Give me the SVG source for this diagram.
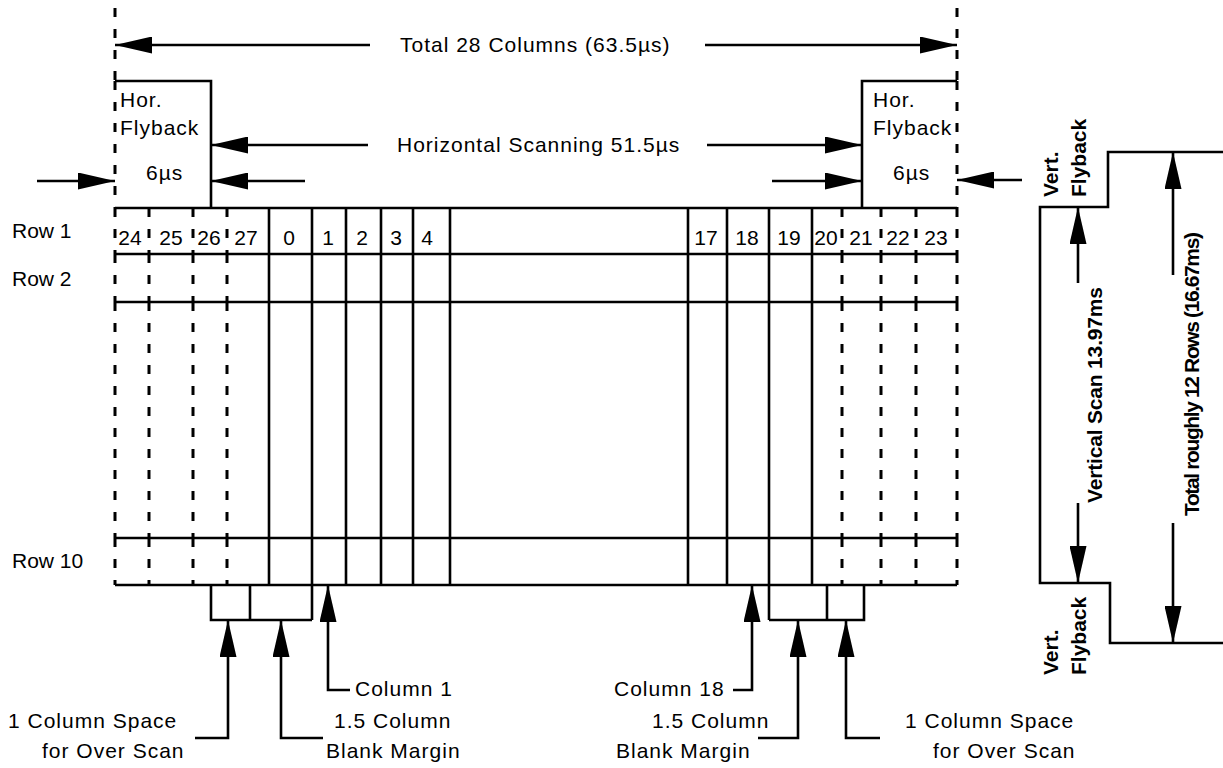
<svg xmlns="http://www.w3.org/2000/svg" width="1223" height="768" viewBox="0 0 1223 768">
<defs>
<style>
.t{font-family:"Liberation Sans",Arial,sans-serif;font-size:21px;letter-spacing:1px;fill:#000}
.w{font-family:"Liberation Sans",Arial,sans-serif;font-size:21px;fill:#000}
.n{font-family:"Liberation Sans",Arial,sans-serif;font-size:21px;fill:#000;text-anchor:middle}
.r{font-family:"Liberation Sans",Arial,sans-serif;font-size:21px;font-weight:bold;fill:#000}
.s{stroke:#000;stroke-width:2.6;fill:none}
.d{stroke:#000;stroke-width:3;fill:none;stroke-dasharray:9 12}
.a{stroke:#000;stroke-width:2.6;fill:none;marker-end:url(#ah)}
</style>
<marker id="ah" markerUnits="userSpaceOnUse" markerWidth="37" markerHeight="17" refX="37" refY="8.5" orient="auto"><path d="M0,0 L37,8.5 L0,17 Z" fill="#000"/></marker>
</defs>
<rect width="1223" height="768" fill="#fff"/>

<g id="grid">
<path class="s" d="M115,208H957 M115,254H957 M115,302H957 M115,538H957 M115,585H957"/>
<path class="s" d="M269,208V585 M312,208V620 M346,208V585 M381,208V585 M413,208V585 M450,208V585 M688,208V585 M727,208V585 M769,208V620 M812,208V585"/>
<path class="d" d="M115,8V81 M115,81V208 M115,208V254 M115,254V302 M115,302V538 M115,538V585
M149,208V254 M149,254V302 M149,302V538 M149,538V585
M193,208V254 M193,254V302 M193,302V538 M193,538V585
M227,208V254 M227,254V302 M227,302V538 M227,538V585
M842,208V254 M842,254V302 M842,302V538 M842,538V585
M881,208V254 M881,254V302 M881,302V538 M881,538V585
M916,208V254 M916,254V302 M916,302V538 M916,538V585
M957,8V81 M957,81V208 M957,208V254 M957,254V302 M957,302V538 M957,538V585"/>
</g>

<g id="row-labels">
<text class="w" x="12" y="238">Row 1</text>
<text class="w" x="12" y="286">Row 2</text>
<text class="w" x="12" y="568">Row 10</text>
</g>

<g id="column-numbers">
<text class="n" x="130" y="245">24</text>
<text class="n" x="171" y="245">25</text>
<text class="n" x="209" y="245">26</text>
<text class="n" x="246" y="245">27</text>
<text class="n" x="289" y="245">0</text>
<text class="n" x="328" y="245">1</text>
<text class="n" x="362" y="245">2</text>
<text class="n" x="396" y="245">3</text>
<text class="n" x="427" y="245">4</text>
<text class="n" x="706" y="245">17</text>
<text class="n" x="747" y="245">18</text>
<text class="n" x="789" y="245">19</text>
<text class="n" x="826" y="245">20</text>
<text class="n" x="861" y="245">21</text>
<text class="n" x="898" y="245">22</text>
<text class="n" x="936" y="245">23</text>
</g>

<g id="left-flyback">
<path class="s" d="M115,81H211V208"/>
<text class="t" x="120" y="107">Hor.</text>
<text class="t" x="120" y="135">Flyback</text>
<text class="t" x="146" y="180">6µs</text>
</g>

<g id="right-flyback">
<path class="s" d="M957,81H862V208"/>
<text class="t" x="873" y="107">Hor.</text>
<text class="t" x="873" y="135">Flyback</text>
<text class="t" x="893" y="180">6µs</text>
</g>

<g id="overscan-boxes">
<path class="s" d="M211,585V620H312 M250,585V620"/>
<path class="s" d="M769,620H864V585 M827,585V620"/>
</g>

<g id="waveform">
<path class="s" d="M1223,152H1108V207H1040V583H1110V643H1223"/>
<text class="r" transform="translate(1058,197) rotate(-90)">Vert.</text>
<text class="r" transform="translate(1086,197) rotate(-90)">Flyback</text>
<text class="r" transform="translate(1058,675) rotate(-90)">Vert.</text>
<text class="r" transform="translate(1086,675) rotate(-90)">Flyback</text>
<text class="r" text-anchor="middle" transform="translate(1102,395) rotate(-90)" textLength="216">Vertical Scan 13.97ms</text>
<text class="r" text-anchor="middle" transform="translate(1199,374) rotate(-90)" textLength="284">Total roughly 12 Rows (16.67ms)</text>
</g>

<g id="connectors">
<path class="a" d="M370,45H115"/>
<path class="a" d="M705,45H957"/>
<path class="a" d="M368,145H211"/>
<path class="a" d="M707,145H862"/>
<path class="a" d="M37,181H115"/>
<path class="a" d="M305,181H211"/>
<path class="a" d="M772,181H862"/>
<path class="a" d="M1022,180H957"/>
<path class="a" d="M1078,283V207"/>
<path class="a" d="M1078,503V583"/>
<path class="a" d="M1173,275V152"/>
<path class="a" d="M1173,523V643"/>
<path class="a" d="M195,738H228V620"/>
<path class="a" d="M323,738H281V620"/>
<path class="a" d="M350,690H328V585"/>
<path class="a" d="M733,690H752V585"/>
<path class="a" d="M758,738H798V620"/>
<path class="a" d="M880,738H846V620"/>
</g>

<g id="annotations">
<text class="t" x="400" y="52">Total 28 Columns (63.5µs)</text>
<text class="t" x="397" y="152">Horizontal Scanning 51.5µs</text>
<text class="t" x="355" y="696">Column 1</text>
<text class="t" x="8" y="728">1 Column Space</text>
<text class="t" x="42" y="758">for Over Scan</text>
<text class="t" x="334" y="728">1.5 Column</text>
<text class="t" x="326" y="758">Blank Margin</text>
<text class="t" x="614" y="696">Column 18</text>
<text class="t" x="652" y="728">1.5 Column</text>
<text class="t" x="616" y="758">Blank Margin</text>
<text class="t" x="905" y="728">1 Column Space</text>
<text class="t" x="933" y="758">for Over Scan</text>
</g>
</svg>
